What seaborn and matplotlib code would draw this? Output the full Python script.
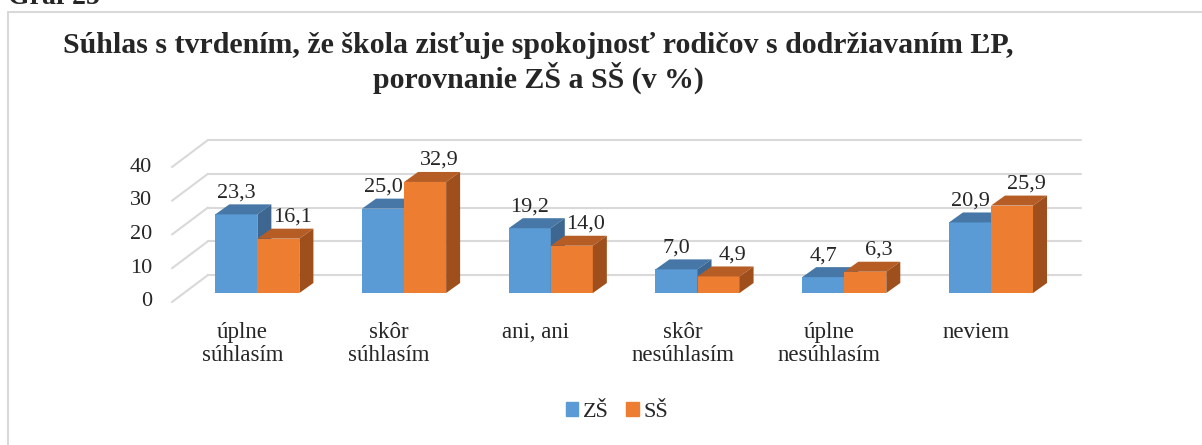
import matplotlib
matplotlib.use("Agg")
import matplotlib.pyplot as plt
from matplotlib.patches import Polygon, Rectangle, Patch
import seaborn as sns
import pandas as pd

# Data
categories = ["úplne\nsúhlasím", "skôr\nsúhlasím", "ani, ani",
              "skôr\nnesúhlasím", "úplne\nnesúhlasím", "neviem"]
series = ["ZŠ", "SŠ"]
zs_values = [23.3, 25.0, 19.2, 7.0, 4.7, 20.9]
ss_values = [16.1, 32.9, 14.0, 4.9, 6.3, 25.9]
y_ticks = [0, 10, 20, 30, 40]

title_1 = "Súhlas s tvrdením, že škola zisťuje spokojnosť rodičov s dodržiavaním ĽP,"
title_2 = "porovnanie ZŠ a SŠ (v %)"

# Colors (front / top / side of 3D bar)
front = {"ZŠ": "#5B9BD5", "SŠ": "#ED7D31"}
top = {"ZŠ": "#4677A6", "SŠ": "#B55D25"}
side = {"ZŠ": "#3D6790", "SŠ": "#9E4F1C"}
grid_color = "#D9D9D9"

df = pd.DataFrame({
    "kategoria": categories * 2,
    "skupina": [series[0]] * len(categories) + [series[1]] * len(categories),
    "hodnota": zs_values + ss_values,
})

sns.set_style("white")
plt.rcParams["font.family"] = ["Liberation Serif", "DejaVu Serif"]

W, H = 1202, 445
fig = plt.figure(figsize=(W / 100, H / 100), dpi=100)
ax = fig.add_axes([184 / W, 1 - 293 / H, 873 / W, 135 / H])

sns.barplot(data=df, x="kategoria", y="hodnota", hue="skupina",
            palette=front, saturation=1, width=0.573, ax=ax, legend=False)

ax.set_xlim(-0.5, 5.45)
ax.set_ylim(0, 40)
ax.axis("off")

# pixels per data unit
p0 = ax.transData.transform((0, 0))
p1 = ax.transData.transform((1, 1))
ux = p1[0] - p0[0]
uy = p1[1] - p0[1]
xl, xr = ax.get_xlim()

# perspective grid (front plane -> back wall)
for v in y_ticks:
    ax.plot([xl + 24 / ux, xr + 24 / ux], [v + 18 / uy, v + 18 / uy],
            color=grid_color, lw=1.5, clip_on=False, zorder=1)
    ax.plot([xl - 12 / ux, xl + 24 / ux], [v - 9 / uy, v + 18 / uy],
            color=grid_color, lw=1.5, clip_on=False, zorder=1)
    ax.text(xl - 32 / ux, v - 9 / uy, str(v), ha="right", va="center",
            fontsize=16)

# 3D faces of bars
ddx = 14 / ux
ddy = 10 / uy
n = len(categories)
for s_idx, s in enumerate(series):
    for bar in ax.patches[s_idx * n:(s_idx + 1) * n]:
        x0 = bar.get_x()
        x1 = x0 + bar.get_width()
        h = bar.get_height()
        z = 3 + x0 * 0.01
        bar.set_zorder(z)
        bar.set_edgecolor("none")
        ax.add_patch(Polygon([(x0, h), (x1, h), (x1 + ddx, h + ddy), (x0 + ddx, h + ddy)],
                             closed=True, facecolor=top[s], edgecolor="none",
                             zorder=z, clip_on=False))
        ax.add_patch(Polygon([(x1, 0), (x1, h), (x1 + ddx, h + ddy), (x1 + ddx, ddy)],
                             closed=True, facecolor=side[s], edgecolor="none",
                             zorder=z, clip_on=False))
        cx = (x0 + x1) / 2 + (ddx if s_idx == 1 else 0)
        ax.text(cx, h + ddy + 7 / uy, f"{h:.1f}".replace(".", ","),
                ha="center", va="baseline", fontsize=16, zorder=10)

# category labels
for i, c in enumerate(categories):
    ax.text(i - 15 / ux, -29 / uy, c, ha="center", va="top",
            fontsize=16.5, linespacing=1.15)

# titles
fig.text(538 / W, 1 - 53 / H, title_1, ha="center", va="baseline",
         fontsize=21.5, fontweight="bold")
fig.text(538 / W, 1 - 88 / H, title_2, ha="center", va="baseline",
         fontsize=21.5, fontweight="bold")
fig.text(8 / W, 1 - 4 / H, "Graf 25", ha="left", va="baseline",
         fontsize=20, fontweight="bold")

# chart border
fig.patches.append(Rectangle((8 / W, -0.02), (W - 2) / W, (H - 12) / H + 0.02,
                             transform=fig.transFigure, fill=False,
                             edgecolor=grid_color, lw=1.5))

# legend
handles = [Patch(color=front[s], label=s) for s in series]
fig.legend(handles=handles, loc="center", bbox_to_anchor=(617 / W, 1 - 412 / H),
           ncol=2, frameon=False, fontsize=16, handlelength=0.55,
           handleheight=0.55, handletextpad=0.2, columnspacing=0.8)

fig.savefig("out.png", dpi=100)
